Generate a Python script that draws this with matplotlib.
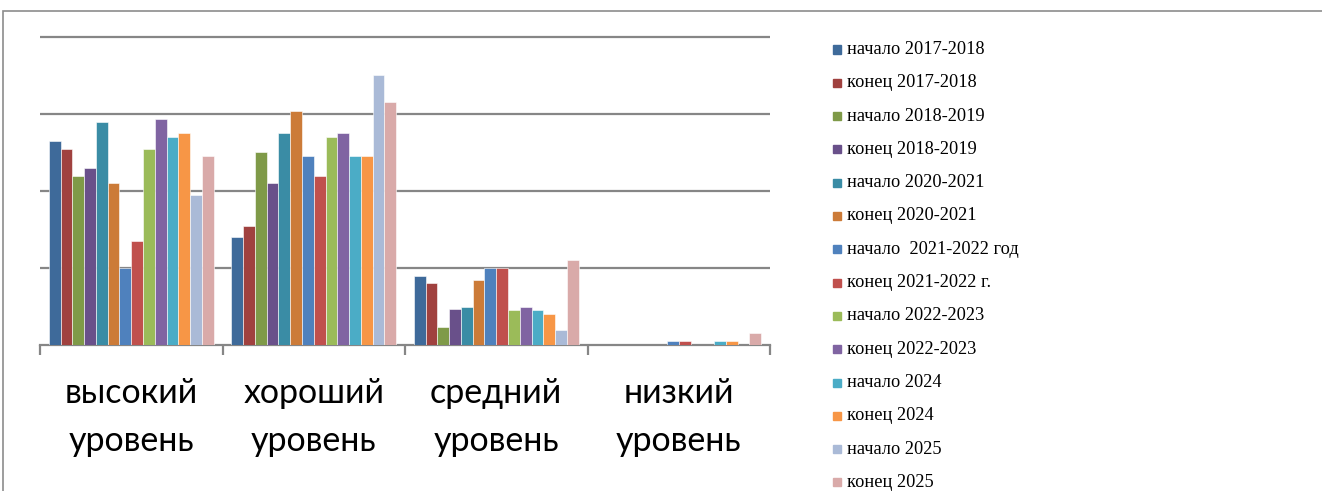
import matplotlib
matplotlib.use("Agg")
import matplotlib.pyplot as plt
import numpy as np
from matplotlib.patches import Rectangle

# categories and series (percent)
categories = ["высокий\nуровень", "хороший\nуровень", "средний\nуровень", "низкий\nуровень"]

series_names = [
    "начало 2017-2018", "конец 2017-2018",
    "начало 2018-2019", "конец 2018-2019",
    "начало 2020-2021", "конец 2020-2021",
    "начало  2021-2022 год", "конец 2021-2022 г.",
    "начало 2022-2023", "конец 2022-2023",
    "начало 2024", "конец 2024",
    "начало 2025", "конец 2025",
]

vysokiy = [26.5, 25.5, 22, 23, 29, 21, 10, 13.5, 25.5, 29.4, 27, 27.5, 19.5, 24.5]
khoroshiy = [14, 15.5, 25, 21, 27.5, 30.4, 24.5, 22, 27, 27.5, 24.5, 24.5, 35, 31.5]
sredniy = [9, 8, 2.4, 4.7, 5, 8.5, 10, 10, 4.5, 5, 4.5, 4, 2, 11]
nizkiy = [0, 0, 0, 0, 0, 0, 0.5, 0.5, 0, 0, 0.5, 0.5, 0, 1.5]

colors = ["#3E6A9A", "#A0413F", "#7F9A48", "#69508A", "#3A8CA5", "#CC7B38",
          "#4F81BD", "#C0504D", "#9BBB59", "#8064A2", "#4BACC6", "#F79646",
          "#AABAD7", "#D9AAA9"]

W, H = 1322, 491
fig = plt.figure(figsize=(W / 100, H / 100), dpi=100)
ax = fig.add_axes([40 / W, (H - 345) / H, 730 / W, 310 / H])

values = np.array([vysokiy, khoroshiy, sredniy, nizkiy])
n = len(series_names)
bw = 0.904 / n
x = np.arange(len(categories))
for i in range(n):
    ax.bar(x - 0.452 + bw * (i + 0.5), values[:, i], width=bw, color=colors[i],
           edgecolor="white", linewidth=0.4, zorder=3)

ax.set_xlim(-0.5, len(categories) - 0.5)
ax.set_ylim(0, 40 * 310 / 308)
ax.set_yticks([10, 20, 30, 40])
ax.yaxis.grid(True, color="#868686", linewidth=1.6, zorder=0)
ax.tick_params(axis="y", left=False, labelleft=False)
for s in ["top", "right", "left"]:
    ax.spines[s].set_visible(False)
ax.spines["bottom"].set_color("#868686")
ax.spines["bottom"].set_linewidth(1.6)

ax.set_xticks(x)
ax.set_xticklabels(categories, fontsize=24.5, family="Lato", linespacing=1.62)
ax.set_xticks(np.arange(len(categories) + 1) - 0.5, minor=True)
ax.tick_params(axis="x", which="major", length=0, pad=23, colors="black")
ax.tick_params(axis="x", which="minor", length=7, width=1.6, color="#868686")

# legend, drawn by hand
for i, name in enumerate(series_names):
    yc = 49.5 + 33.3 * i
    fig.patches.append(Rectangle((833 / W, 1 - (yc + 4) / H), 8 / W, 8 / H,
                                 transform=fig.transFigure, color=colors[i]))
    fig.text(847 / W, 1 - yc / H, name, fontsize=13.2, family="Liberation Serif",
             va="center", ha="left")

# chart border
fig.patches.append(Rectangle((3 / W, -0.1), 1.2, 1.1 - 11 / H, transform=fig.transFigure,
                             fill=False, edgecolor="#8C8C8C", linewidth=1.2))

fig.savefig("out.png", dpi=100)
